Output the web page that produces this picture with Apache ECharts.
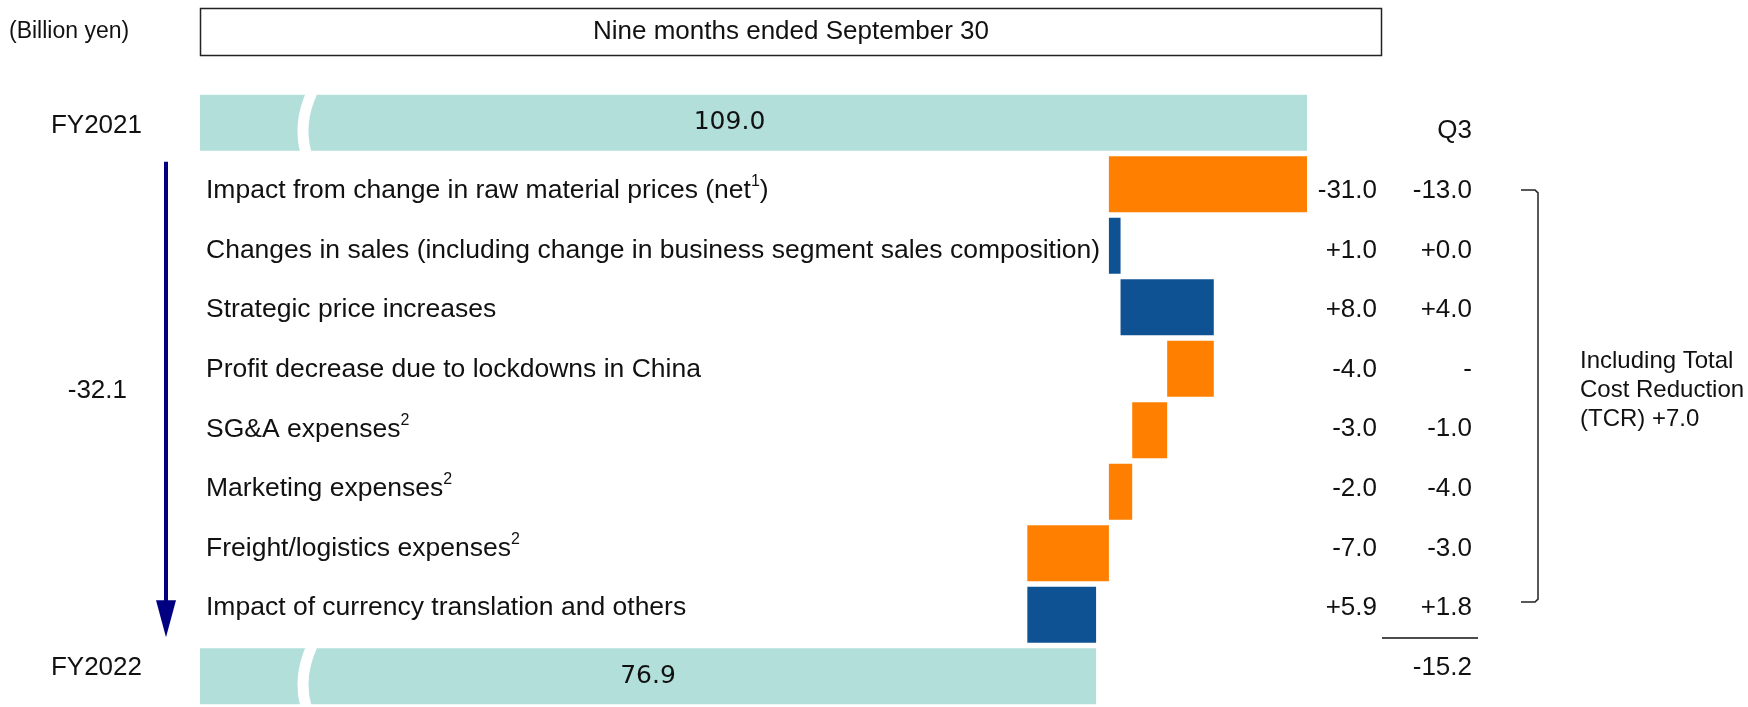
<!DOCTYPE html>
<html>
<head>
<meta charset="utf-8">
<style>
  html, body { margin: 0; padding: 0; background: #fff; }
  #chart { width: 1748px; height: 707px; }
</style>
<script src="https://cdn.jsdelivr.net/npm/echarts@6/dist/echarts.min.js"></script>
</head>
<body>
<div id="chart"></div>
<script>
const startLabel = 'FY2021';
const endLabel = 'FY2022';
const startValue = 109.0;
const endValue = 76.9;
const totalChange = -32.1;

const itemLabels = [
  '{t|Impact from change in raw material prices (net}{sup|1}{t|)}',
  '{t|Changes in sales (including change in business segment sales composition)}',
  '{t|Strategic price increases}',
  '{t|Profit decrease due to lockdowns in China}',
  '{t|SG&A expenses}{sup|2}',
  '{t|Marketing expenses}{sup|2}',
  '{t|Freight/logistics expenses}{sup|2}',
  '{t|Impact of currency translation and others}'
];
const itemChanges = [-31.0, 1.0, 8.0, -4.0, -3.0, -2.0, -7.0, 5.9];
const q3Changes = [-13.0, 0.0, 4.0, null, -1.0, -4.0, -3.0, 1.8];
const q3Total = -15.2;
const q3Header = 'Q3';
const unitText = '(Billion yen)';
const periodText = 'Nine months ended September 30';
const tcrNote = 'Including Total\nCost Reduction\n(TCR) +7.0';

const FONT = '"Liberation Sans", Arial, sans-serif';
const TEXT = '#111';
const ORANGE = '#FF8000';
const BLUE = '#0F5294';
const TEAL = '#B2DFDA';

const fmt = (v) => (v === null ? '-' : (v >= 0 ? '+' : '') + v.toFixed(1));

// rows: start, each item, end
const rows = [startLabel, ...itemLabels.map((_, i) => 'item' + i), endLabel];
const last = rows.length - 1;

// waterfall pieces
const baseData = ['-'];
const downData = ['-'];
const upData = ['-'];
const totalData = [startValue];
let level = startValue;
itemChanges.forEach((v) => {
  const next = +(level + v).toFixed(1);
  baseData.push(Math.min(level, next));
  downData.push(v < 0 ? -v : '-');
  upData.push(v > 0 ? v : '-');
  totalData.push('-');
  level = next;
});
baseData.push('-');
downData.push('-');
upData.push('-');
totalData.push(endValue);

const rowText = ['', ...itemLabels, ''];
const fyText = [startLabel, ...itemLabels.map(() => ''), endLabel];
const changeText = ['', ...itemChanges.map(fmt), ''];
const q3Text = [q3Header, ...q3Changes.map(fmt), q3Total.toFixed(1)];

const chart = echarts.init(document.getElementById('chart'));

const barCommon = { type: 'bar', stack: 'w', barWidth: 56, xAxisIndex: 0, yAxisIndex: 0 };
const hiddenCat = {
  type: 'category',
  data: rows,
  inverse: true,
  axisLine: { show: false },
  axisTick: { show: false },
  splitLine: { show: false }
};

chart.setOption({
  animation: false,
  grid: [
    { left: 200, top: 92, width: 1107, height: 619 },
    { left: 200, top: 101.5, width: 1107, height: 596 }
  ],
  xAxis: [
    {
      gridIndex: 0,
      type: 'value',
      min: 0,
      max: 109,
      show: false,
      breaks: [{ start: 90, end: 104, gap: 0 }],
      breakArea: { show: false }
    },
    { gridIndex: 1, type: 'value', min: 0, max: 1, show: false }
  ],
  yAxis: [
    { ...hiddenCat, gridIndex: 0, show: false },
    {
      ...hiddenCat,
      gridIndex: 1,
      position: 'left',
      axisLabel: {
        inside: true,
        align: 'left',
        margin: 6,
        interval: 0,
        formatter: (v, i) => rowText[i],
        rich: {
          t: { fontSize: 26.5, lineHeight: 34, fontFamily: FONT, color: TEXT },
          sup: { fontSize: 16, lineHeight: 18, fontFamily: FONT, color: TEXT, verticalAlign: 'top' }
        }
      }
    },
    {
      ...hiddenCat,
      gridIndex: 1,
      position: 'left',
      axisLabel: {
        align: 'right',
        margin: 58,
        interval: 0,
        fontSize: 26,
        fontFamily: FONT,
        color: TEXT,
        formatter: (v, i) => (i === 0 ? '{fy1|' + fyText[i] + '}' : fyText[i]),
        rich: { fy1: { fontSize: 26, fontFamily: FONT, color: TEXT, padding: [0, 0, 10, 0] } }
      }
    },
    {
      ...hiddenCat,
      gridIndex: 1,
      position: 'right',
      axisLabel: {
        align: 'right',
        margin: 70,
        interval: 0,
        fontSize: 26,
        fontFamily: FONT,
        color: TEXT,
        formatter: (v, i) => changeText[i]
      }
    },
    {
      ...hiddenCat,
      gridIndex: 1,
      position: 'right',
      axisLabel: {
        align: 'right',
        margin: 165,
        interval: 0,
        fontSize: 26,
        fontFamily: FONT,
        color: TEXT,
        formatter: (v, i) => q3Text[i]
      }
    }
  ],
  series: [
    { ...barCommon, name: 'base', data: baseData, itemStyle: { color: 'transparent' }, silent: true },
    { ...barCommon, name: 'decrease', data: downData, itemStyle: { color: ORANGE } },
    { ...barCommon, name: 'increase', data: upData, itemStyle: { color: BLUE } },
    {
      ...barCommon,
      name: 'total',
      // the start label sits a little left of the bar centre
      data: totalData.map((v, i) => (i === 0 ? { value: v, label: { offset: [-24, 0] } } : v)),
      itemStyle: { color: TEAL },
      label: {
        show: true,
        position: 'inside',
        formatter: (p) => p.value.toFixed(1),
        fontFamily: '"DejaVu Sans", Verdana, sans-serif',
        fontSize: 25,
        color: TEXT
      }
    }
  ]
});

// decorations placed from the axes
const barY = (i) => chart.convertToPixel({ yAxisIndex: 0 }, i);
const labelY = (i) => chart.convertToPixel({ yAxisIndex: 1 }, i);
const xPix = (v) => chart.convertToPixel({ xAxisIndex: 0 }, v);

const graphics = [];

graphics.push({
  type: 'text',
  x: 9,
  y: 32,
  style: { text: unitText, fontSize: 23, fontFamily: FONT, fill: TEXT, verticalAlign: 'middle' }
});
graphics.push({
  type: 'rect',
  shape: { x: 200.5, y: 8.5, width: 1181, height: 47 },
  style: { fill: 'none', stroke: '#222', lineWidth: 1.5 }
});
graphics.push({
  type: 'text',
  x: 791,
  y: 32,
  style: { text: periodText, fontSize: 26, fontFamily: FONT, fill: TEXT, align: 'center', verticalAlign: 'middle' }
});

// white wave across the total bars
const xw = xPix(9);
[0, last].forEach((i) => {
  const c = barY(i);
  graphics.push({
    type: 'bezierCurve',
    z: 10,
    shape: { x1: xw + 7, y1: c - 30, cpx1: xw - 7, cpy1: c, x2: xw + 1, y2: c + 30 },
    style: { stroke: '#fff', lineWidth: 11, fill: 'none' }
  });
});

// arrow
const ax = 166;
const arrowTop = barY(0) + 39;
const arrowTip = barY(last) - 39;
graphics.push({
  type: 'line',
  shape: { x1: ax, y1: arrowTop, x2: ax, y2: arrowTip - 34 },
  style: { stroke: '#000080', lineWidth: 4 }
});
graphics.push({
  type: 'polygon',
  shape: { points: [[ax - 10, arrowTip - 37], [ax + 10, arrowTip - 37], [ax, arrowTip]] },
  style: { fill: '#000080' }
});
graphics.push({
  type: 'text',
  x: 127,
  y: 391,
  style: { text: totalChange.toFixed(1), fontSize: 26, fontFamily: FONT, fill: TEXT, align: 'right', verticalAlign: 'middle' }
});

// bracket
const bx = 1538;
const by1 = labelY(1) - 1;
const by2 = labelY(last - 1) - 6;
graphics.push({
  type: 'polyline',
  shape: { points: [[1521, by1], [bx - 3, by1], [bx, by1 + 3], [bx, by2 - 3], [bx - 3, by2], [1521, by2]] },
  style: { stroke: '#222', lineWidth: 1.5, fill: 'none' }
});
graphics.push({
  type: 'text',
  x: 1580,
  y: (by1 + by2) / 2 - 6,
  style: { text: tcrNote, fontSize: 24, lineHeight: 29, fontFamily: FONT, fill: TEXT, verticalAlign: 'middle' }
});

// underline above total of Q3 column
const uy = (labelY(last - 1) + labelY(last)) / 2;
graphics.push({
  type: 'line',
  shape: { x1: 1382, y1: uy, x2: 1478, y2: uy },
  style: { stroke: '#111', lineWidth: 1.5 }
});

chart.setOption({ graphic: graphics });
</script>
</body>
</html>
